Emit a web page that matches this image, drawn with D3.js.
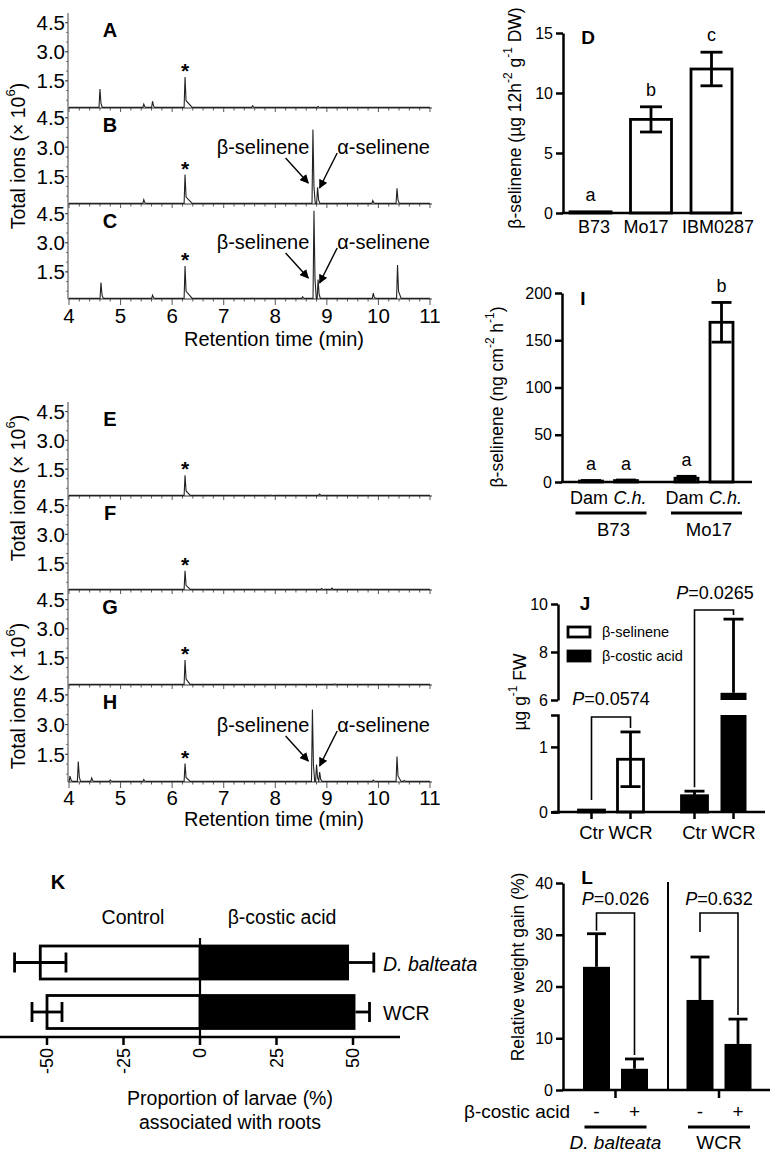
<!DOCTYPE html>
<html><head><meta charset="utf-8">
<script src="https://cdn.jsdelivr.net/npm/d3@7"></script>
<style>body{margin:0;background:#fff}svg{display:block}</style>
</head><body>
<svg id="c" width="776" height="1152"></svg>
<script>
// ---------------- DATA ----------------
// Chromatograms: peaks as [retention time (min), height (x10^6), optional tail]
const rtTicks = [4,5,6,7,8,9,10,11];
const ionTicks = [1.5,3.0,4.5];
const standardRT = 6.25;
const traceA = [[4.6,1.08],[5.45,0.3],[5.62,0.45],[6.25,1.7,0.14],[7.56,0.22],[8.83,0.18]];
const traceB = [[5.45,0.32],[6.25,1.6,0.14],[7.55,0.15],[8.73,3.9],[8.82,0.95],[9.89,0.28],[10.36,0.9]];
const traceC = [[4.62,0.95],[5.62,0.3],[6.25,1.8,0.14],[7.55,0.15],[8.53,0.22],[8.75,4.65],[8.83,1.1],[9.9,0.4],[10.37,1.85,0.07]];
const traceE = [[6.25,1.18,0.1],[7.55,0.14],[7.92,0.15],[8.86,0.2],[9.45,0.13]];
const traceF = [[6.25,1.1,0.1],[8.9,0.18],[9.1,0.2]];
const traceG = [[6.25,1.39,0.1],[8.85,0.14],[9.15,0.16]];
const traceH = [[4.02,0.4],[4.18,1.13],[4.44,0.3],[4.8,0.2],[5.45,0.22],[6.25,1.03,0.1],[8.72,3.76],[8.8,0.98],[8.86,0.6],[9.9,0.2],[10.36,1.39,0.08],[10.5,0.18]];
const chromLetters1 = ["A","B","C"];
const chromLetters2 = ["E","F","G","H"];
const chromAnnot1 = [false,true,true];
const chromAnnot2 = [false,false,false,true];

// Panel D
const dCats = ["B73","Mo17","IBM0287"];
const dMeans = [0.1, 7.8, 12.0];
const dErr = [0.0, 1.05, 1.4];
const dLetters = ["a","b","c"];
const dTicks = [0,5,10,15];

// Panel I
const iGroups = ["B73","Mo17"];
const iCats = ["Dam","C.h."];
const iMeans = [1.0, 1.5, 4.0, 169];
const iErr = [0.6, 0.6, 2.0, 21];
const iLetters = ["a","a","a","b"];
const iTicks = [0,50,100,150,200];

// Panel J
const jSeries = ["β-selinene","β-costic acid"];
const jCats = ["Ctr","WCR"];
const jMeans = [0.03, 0.81, 0.25, 6.3];
const jErr = [0.01, 0.42, 0.07, 3.07];
const jLowTicks = [0,1];
const jHighTicks = [6,8,10];
const jP = ["0.0574","0.0265"];

// Panel K
const kCats = ["D. balteata","WCR"];
const kControl = [-52.2, -50.0];
const kControlErr = [8.4, 4.9];
const kCostic = [48.7, 50.8];
const kCosticErr = [8.1, 4.6];
const kTicks = [-50,-25,0,25,50];

// Panel L
const lGroups = ["D. balteata","WCR"];
const lCats = ["-","+"];
const lMeans = [23.8, 4.1, 17.4, 8.9];
const lErr = [6.4, 1.9, 8.3, 4.8];
const lTicks = [0,10,20,30,40];
const lP = ["0.026","0.632"];

// ---------------- DRAW ----------------
const FONT = '"Liberation Sans", Arial, Helvetica, sans-serif';
const svg = d3.select("#c").attr("font-family", FONT);
svg.append("defs").append("marker").attr("id","arr").attr("viewBox","0 0 10 10")
  .attr("refX",9).attr("refY",5).attr("markerWidth",9).attr("markerHeight",9)
  .attr("markerUnits","userSpaceOnUse").attr("orient","auto")
  .append("path").attr("d","M0,0 L10,5 L0,10 z").attr("fill","#000");

function text(g, x, y, s, o = {}) {
  const t = g.append("text").attr("x", x).attr("y", y).text(s)
    .attr("font-size", o.size || 18).attr("text-anchor", o.anchor || "middle")
    .attr("dominant-baseline", o.base || "central").attr("fill", "#000");
  if (o.bold) t.attr("font-weight", "bold");
  if (o.italic) t.attr("font-style", "italic");
  if (o.rotate) t.attr("transform", `rotate(-90,${x},${y})`);
  return t;
}
function rich(g, x, y, parts, o = {}) {
  const size = o.size || 18;
  const t = g.append("text").attr("x", x).attr("y", y).attr("font-size", size)
    .attr("text-anchor", o.anchor || "middle").attr("dominant-baseline", "central").attr("fill", "#000");
  if (o.rotate) t.attr("transform", `rotate(-90,${x},${y})`);
  let up = false;
  parts.forEach(p => {
    const ts = t.append("tspan").text(p.t);
    if (p.sup && !up) { ts.attr("dy", -size * 0.4); up = true; }
    else if (!p.sup && up) { ts.attr("dy", size * 0.4); up = false; }
    if (p.sup) ts.attr("font-size", size * 0.68);
    if (p.i) ts.attr("font-style", "italic");
  });
  return t;
}
function line(g, x1, y1, x2, y2, w = 2.5, c = "#000") {
  return g.append("line").attr("x1", x1).attr("y1", y1).attr("x2", x2).attr("y2", y2)
    .attr("stroke", c).attr("stroke-width", w);
}

// ---- Chromatograms ----
const xs = d3.scaleLinear().domain([4, 11]).range([69, 430]);
function tracePts(peaks, base) {
  const pts = [[4, base]];
  peaks.forEach(([rt, h, tail = 0.045]) => {
    pts.push([rt - 0.018, base], [rt, h], [rt + 0.02, base + (h - base) * 0.22], [rt + tail, base]);
  });
  pts.push([11, base]);
  return pts;
}
function chromGroup(traces, letters, annots, tops, bottoms, tickY, titleY) {
  const g = svg.append("g");
  line(g, 68, tops[0], 68, bottoms[bottoms.length - 1], 1, "#444");
  traces.forEach((tr, i) => {
    const y = d3.scaleLinear().domain([0.1, 5.0]).range([bottoms[i], tops[i]]);
    const last = i === traces.length - 1;
    line(g, 68, bottoms[i], 432, bottoms[i], 1.1, "#333");
    d3.range(4, 11.01, 0.2).forEach(v => {
      const major = Math.abs(v - Math.round(v)) < 1e-6;
      line(g, xs(v), bottoms[i], xs(v), bottoms[i] + (major ? (last ? 6 : 4) : 2.5), 0.9, "#444");
    });
    d3.range(0.5, 5.0, 0.5).forEach(v => line(g, 66, y(v), 68, y(v), 0.8, "#555"));
    ionTicks.forEach(v => {
      line(g, 65, y(v), 68, y(v), 1, "#444");
      text(g, 65, y(v), d3.format(".1f")(v), { size: 20.5, anchor: "end" });
    });
    g.append("path").datum(tracePts(tr, 0.13))
      .attr("d", d3.line().x(d => xs(d[0])).y(d => y(d[1])))
      .attr("fill", "none").attr("stroke", "#222").attr("stroke-width", 1.1);
    text(g, 110, tops[i] + 17, letters[i], { size: 20, bold: true });
    const std = tr.find(p => p[0] === standardRT);
    text(g, xs(standardRT), y(std[1]) + 1, "*", { size: 21, bold: true, base: "alphabetic" });
    if (annots[i]) {
      const b = bottoms[i];
      text(g, xs(8.66), b - 57, "β-selinene", { size: 20, anchor: "end" });
      text(g, xs(9.2), b - 57, "α-selinene", { size: 20, anchor: "start" });
      line(g, xs(8.2), b - 46, xs(8.64), b - 21, 1.4).attr("marker-end", "url(#arr)");
      line(g, xs(9.2), b - 51, xs(8.86), b - 16, 1.4).attr("marker-end", "url(#arr)");
    }
  });
  rtTicks.forEach(v => text(g, xs(v), tickY, String(v), { size: 20.5 }));
  text(g, 274, titleY, "Retention time (min)", { size: 20 });
  return g;
}
const ionLabel = [{ t: "Total ions (× 10" }, { t: "6", sup: true }, { t: ")" }];
const g1 = chromGroup([traceA, traceB, traceC], chromLetters1, chromAnnot1, [13, 108, 204], [108, 204, 299], 315, 339);
rich(g1, 18, 156, ionLabel, { size: 19.5, rotate: true });
const g2 = chromGroup([traceE, traceF, traceG, traceH], chromLetters2, chromAnnot2, [402, 496, 590, 685], [496, 590, 685, 782], 797, 819);
rich(g2, 18, 488, ionLabel, { size: 19.5, rotate: true });
rich(g2, 18, 696, ionLabel, { size: 19.5, rotate: true });

// ---- shared y axis helper ----
function yAxis(g, scale, x, ticks, outer = 0) {
  const a = g.append("g").attr("transform", `translate(${x},0)`)
    .call(d3.axisLeft(scale).tickValues(ticks).tickSize(7).tickSizeOuter(outer).tickPadding(3).tickFormat(d3.format("d")));
  a.attr("font-family", FONT);
  a.select(".domain").attr("stroke", "#000").attr("stroke-width", 2.5);
  a.selectAll(".tick line").attr("stroke", "#000").attr("stroke-width", 2.5);
  a.selectAll(".tick text").attr("font-size", 16).attr("fill", "#000");
  return a;
}
function errBar(g, x, y1, y2, cap, both = true) {
  line(g, x, y1, x, y2, 2.8);
  line(g, x - cap / 2, y1, x + cap / 2, y1, 2.8);
  if (both) line(g, x - cap / 2, y2, x + cap / 2, y2, 2.8);
}

// ---- Panel D ----
{
  const g = svg.append("g");
  const y = d3.scaleLinear().domain([0, 15]).range([213, 33]);
  const x = d3.scalePoint().domain(dCats).range([590.5, 711.5]);
  const labelShift = [3.5, -5, 6.5];
  const bw = 41;
  dCats.forEach((c, i) => {
    g.append("rect").attr("x", x(c) - bw / 2).attr("y", y(dMeans[i])).attr("width", bw)
      .attr("height", y(0) - y(dMeans[i])).attr("fill", "#fff").attr("stroke", "#000").attr("stroke-width", 2.8);
    if (dErr[i] > 0) errBar(g, x(c), y(dMeans[i] + dErr[i]), y(dMeans[i] - dErr[i]), 22);
    text(g, x(c), y(dMeans[i] + dErr[i]) - 17, dLetters[i], { size: 18 });
    text(g, x(c) + labelShift[i], 227, c, { size: 18 });
  });
  yAxis(g, y, 563, dTicks);
  line(g, 561.8, 213, 742, 213, 2.5);
  text(g, 588, 37, "D", { size: 19, bold: true });
  rich(g, 515, 118, [{ t: "β-selinene (µg 12h" }, { t: "-2", sup: true }, { t: " g" }, { t: "-1", sup: true }, { t: " DW)" }], { size: 17.5, rotate: true });
}

// ---- Panel I ----
{
  const g = svg.append("g");
  const y = d3.scaleLinear().domain([0, 200]).range([482, 293]);
  const gx = d3.scalePoint().domain(iGroups).range([608.5, 704]);
  const sx = d3.scalePoint().domain(iCats).range([-17.5, 17.5]);
  const bw = 23;
  iGroups.forEach((grp, gi) => {
    iCats.forEach((c, ci) => {
      const k = gi * 2 + ci, cx = gx(grp) + sx(c);
      g.append("rect").attr("x", cx - bw / 2).attr("y", y(iMeans[k])).attr("width", bw)
        .attr("height", y(0) - y(iMeans[k])).attr("fill", "#fff").attr("stroke", "#000").attr("stroke-width", 2.8);
      errBar(g, cx, y(iMeans[k] + iErr[k]), y(iMeans[k] - iErr[k]), 20);
      text(g, cx, y(iMeans[k] + iErr[k]) - 16, iLetters[k], { size: 18 });
      text(g, cx + (ci ? 4 : -2), 498, c, { size: 18, italic: ci === 1 });
    });
    line(g, gx(grp) - 33, 513, gx(grp) + 38, 513, 3);
    text(g, gx(grp) + 5, 529, grp, { size: 18.5 });
  });
  yAxis(g, y, 562, iTicks);
  line(g, 561, 482, 752, 482, 2.5);
  text(g, 583, 298, "I", { size: 19, bold: true });
  rich(g, 497, 397, [{ t: "β-selinene (ng cm" }, { t: "-2", sup: true }, { t: " h" }, { t: "-1", sup: true }, { t: ")" }], { size: 17.5, rotate: true });
}

// ---- Panel J (broken axis) ----
{
  const g = svg.append("g");
  const yLo = d3.scaleLinear().domain([0, 1.49]).range([812, 715]);
  const yHi = d3.scaleLinear().domain([6, 10]).range([700, 604]);
  const yv = v => v <= 1.49 ? yLo(v) : yHi(v);
  const gx = d3.scalePoint().domain(jSeries).range([611, 714]);
  const sx = d3.scalePoint().domain(jCats).range([-19.5, 19.5]);
  const bw = 26;
  jSeries.forEach((s, si) => {
    const fill = si ? "#000" : "#fff";
    jCats.forEach((c, ci) => {
      const k = si * 2 + ci, cx = gx(s) + sx(c), m = jMeans[k];
      if (m <= 1.49) {
        g.append("rect").attr("x", cx - bw / 2).attr("y", yLo(m)).attr("width", bw).attr("height", 812 - yLo(m))
          .attr("fill", fill).attr("stroke", "#000").attr("stroke-width", 2.8);
      } else {
        g.append("rect").attr("x", cx - bw / 2).attr("y", 715).attr("width", bw).attr("height", 812 - 715).attr("fill", "#000");
        g.append("rect").attr("x", cx - bw / 2).attr("y", yHi(m)).attr("width", bw).attr("height", 700 - yHi(m)).attr("fill", "#000");
      }
      if (si === 0) { if (jErr[k] > 0.05) errBar(g, cx, yv(m + jErr[k]), yv(m - jErr[k]), 20); }
      else errBar(g, cx, yv(m + jErr[k]), yv(m), 20, false);
      line(g, cx, 812, cx, 819, 2.5);
      text(g, cx, 832, c, { size: 18.5 });
    });
  });
  const b1l = gx(jSeries[0]) + sx("Ctr"), b1r = gx(jSeries[0]) + sx("WCR");
  g.append("path").attr("d", `M${b1l},${yLo(jMeans[0]) - 10}V717H${b1r}V${yLo(jMeans[1] + jErr[1]) - 4}`)
    .attr("fill", "none").attr("stroke", "#000").attr("stroke-width", 1.6);
  rich(g, (b1l + b1r) / 2, 699, [{ t: "P", i: true }, { t: "=" + jP[0] }], { size: 18 });
  const b2l = gx(jSeries[1]) + sx("Ctr"), b2r = gx(jSeries[1]) + sx("WCR");
  g.append("path").attr("d", `M${b2l},${yLo(jMeans[2] + jErr[2]) - 4}V610H${b2r}V${yHi(jMeans[3] + jErr[3]) - 4}`)
    .attr("fill", "none").attr("stroke", "#000").attr("stroke-width", 1.6);
  rich(g, (b2l + b2r) / 2 + 1, 593, [{ t: "P", i: true }, { t: "=" + jP[1] }], { size: 18 });
  yAxis(g, yLo, 558, jLowTicks, 7);
  yAxis(g, yHi, 558, jHighTicks, 0);
  line(g, 553, 812, 765, 812, 2.5);
  text(g, 585, 603, "J", { size: 19, bold: true });
  jSeries.forEach((s, si) => {
    const cy = 632 + si * 24;
    g.append("rect").attr("x", 568).attr("y", cy - 5).attr("width", 22).attr("height", 10)
      .attr("fill", si ? "#000" : "#fff").attr("stroke", "#000").attr("stroke-width", 2.8);
    text(g, 602, cy, s, { size: 14.5, anchor: "start" });
  });
  rich(g, 520, 692, [{ t: "µg g" }, { t: "-1", sup: true }, { t: " FW" }], { size: 17.5, rotate: true });
}

// ---- Panel K ----
{
  const g = svg.append("g");
  const x = d3.scaleLinear().domain([-50, 50]).range([47, 353]);
  const y = d3.scalePoint().domain(kCats).range([962.5, 1012]);
  const bh = 33;
  kCats.forEach((c, i) => {
    g.append("rect").attr("x", x(kControl[i])).attr("y", y(c) - bh / 2).attr("width", x(0) - x(kControl[i]))
      .attr("height", bh).attr("fill", "#fff").attr("stroke", "#000").attr("stroke-width", 2.8);
    g.append("rect").attr("x", x(0)).attr("y", y(c) - bh / 2 - 1.4).attr("width", x(kCostic[i]) - x(0))
      .attr("height", bh + 2.8).attr("fill", "#000");
    const a = x(kControl[i] - kControlErr[i]), b = x(kControl[i] + kControlErr[i]);
    line(g, a, y(c), b, y(c), 2.8);
    line(g, a, y(c) - 10, a, y(c) + 10, 2.8);
    line(g, b, y(c) - 10, b, y(c) + 10, 2.8);
    const e = x(kCostic[i] + kCosticErr[i]);
    line(g, x(kCostic[i]), y(c), e, y(c), 2.8);
    line(g, e, y(c) - 10, e, y(c) + 10, 2.8);
    text(g, 383, y(c) + 1, c, { size: 19.5, anchor: "start", italic: i === 0 });
  });
  line(g, x(0), 938, x(0), 1037, 2.2);
  line(g, 0, 1037, 400, 1037, 2.5);
  kTicks.forEach(v => {
    line(g, x(v), 1037, x(v), 1045, 2.5);
    text(g, x(v), 1048, String(v), { size: 18, anchor: "end", rotate: true });
  });
  text(g, 58, 882, "K", { size: 20, bold: true });
  text(g, 133, 917, "Control", { size: 19.5 });
  text(g, 282, 917, "β-costic acid", { size: 19.5 });
  text(g, 230, 1098, "Proportion of larvae (%)", { size: 19.5 });
  text(g, 230, 1122, "associated with roots", { size: 19.5 });
}

// ---- Panel L ----
{
  const g = svg.append("g");
  const y = d3.scaleLinear().domain([0, 40]).range([1090, 883]);
  const gx = d3.scalePoint().domain(lGroups).range([615.5, 719]);
  const sx = d3.scalePoint().domain(lCats).range([-19, 19]);
  const bw = 27;
  const cxs = [];
  lGroups.forEach((grp, gi) => {
    lCats.forEach((c, ci) => {
      const k = gi * 2 + ci, cx = gx(grp) + sx(c);
      cxs.push(cx);
      g.append("rect").attr("x", cx - bw / 2).attr("y", y(lMeans[k])).attr("width", bw)
        .attr("height", y(0) - y(lMeans[k])).attr("fill", "#000");
      errBar(g, cx, y(lMeans[k] + lErr[k]), y(lMeans[k]), 19, false);
      text(g, cx, 1111, c, { size: 19 });
    });
    line(g, gx(grp), 1090, gx(grp), 1098, 2.5);
    line(g, gx(grp) - 31, 1127, gx(grp) + 31, 1127, 3);
    text(g, gx(grp), 1142, grp, { size: 19, italic: gi === 0 });
  });
  [[0, 1], [2, 3]].forEach(([a, b], bi) => {
    const left = y(lMeans[a] + lErr[a]);
    g.append("path").attr("d", `M${cxs[a]},${Math.min(left - 3, 932)}V913H${cxs[b]}V${y(lMeans[b] + lErr[b]) - 4}`)
      .attr("fill", "none").attr("stroke", "#000").attr("stroke-width", 1.6);
    rich(g, (cxs[a] + cxs[b]) / 2, 899, [{ t: "P", i: true }, { t: "=" + lP[bi] }], { size: 18 });
  });
  line(g, 668, 882, 668, 1090, 2);
  yAxis(g, y, 563, lTicks);
  line(g, 562, 1090, 770, 1090, 2.5);
  text(g, 587, 877, "L", { size: 19, bold: true });
  text(g, 570, 1111, "β-costic acid", { size: 19, anchor: "end" });
  text(g, 518, 967, "Relative weight gain (%)", { size: 17.5, rotate: true });
}
</script>
</body></html>
